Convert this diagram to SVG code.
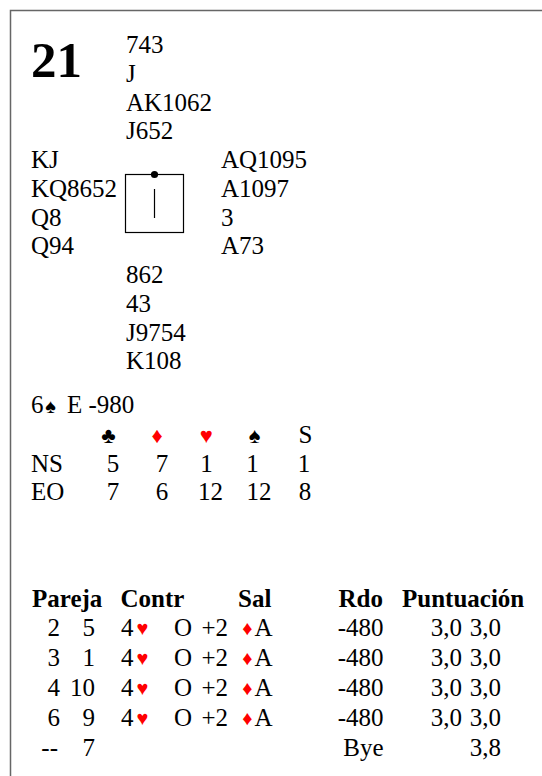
<svg xmlns="http://www.w3.org/2000/svg" width="542" height="776" viewBox="0 0 542 776">
<style>
text{font-family:"Liberation Serif","Times New Roman",serif;font-size:25px;fill:#000}
.b{font-weight:bold}
.m{text-anchor:middle}
.e{text-anchor:end}
.h{font-size:22px;text-anchor:middle}
.t{font-size:20px;text-anchor:middle}
.r{fill:#ff0000}
</style>
<rect width="542" height="776" fill="#fff"/>
<path d="M10.5,776 V10.5 H542" fill="none" stroke="#666" stroke-width="1.5"/>
<g id="board">
<text x="31" y="77" class="b" style="font-size:51px">21</text>
</g>
<g id="north">
<text x="126" y="53">743</text>
<text x="126" y="81.75">J</text>
<text x="126" y="110.5">AK1062</text>
<text x="126" y="139.25">J652</text>
</g>
<g id="west">
<text x="31" y="168">KJ</text>
<text x="31" y="196.75">KQ8652</text>
<text x="31" y="225.5">Q8</text>
<text x="31" y="254.25">Q94</text>
</g>
<g id="east">
<text x="221" y="168">AQ1095</text>
<text x="221" y="196.75">A1097</text>
<text x="221" y="225.5">3</text>
<text x="221" y="254.25">A73</text>
</g>
<g id="south">
<text x="126" y="283">862</text>
<text x="126" y="311.75">43</text>
<text x="126" y="340.5">J9754</text>
<text x="126" y="369.25">K108</text>
</g>
<g id="compass">
<rect x="125.5" y="174.5" width="58" height="58" fill="none" stroke="#000" stroke-width="1.2"/>
<circle cx="154.5" cy="174.5" r="3.6" fill="#000"/>
<line x1="154.5" y1="189" x2="154.5" y2="218" stroke="#000" stroke-width="1.2"/>
</g>
<g id="contract">
<text x="31" y="412.5">6</text>
<text x="50.5" y="412.5" class="t">♠</text>
<text x="67" y="412.5">E -980</text>
</g>
<g id="tricks">
<text x="108.5" y="443" class="h">♣</text>
<text x="157" y="443" class="h r">♦</text>
<text x="206.4" y="443" class="h r">♥</text>
<text x="254.7" y="443" class="h">♠</text>
<text x="305.5" y="443" class="m">S</text>
<text x="31" y="471.5">NS</text>
<text x="113" y="471.5" class="m">5</text>
<text x="162" y="471.5" class="m">7</text>
<text x="206.5" y="471.5" class="m">1</text>
<text x="252.5" y="471.5" class="m">1</text>
<text x="304" y="471.5" class="m">1</text>
<text x="31" y="500">EO</text>
<text x="113" y="500" class="m">7</text>
<text x="162" y="500" class="m">6</text>
<text x="210.5" y="500" class="m">12</text>
<text x="259" y="500" class="m">12</text>
<text x="305" y="500" class="m">8</text>
</g>
<g id="results">
<text x="32" y="607" class="b">Pareja</text>
<text x="120.5" y="607" class="b">Contr</text>
<text x="238" y="607" class="b">Sal</text>
<text x="383" y="607" class="b e">Rdo</text>
<text x="402" y="607" class="b">Puntuación</text>
<g id="row1">
<text x="60" y="636" class="e">2</text><text x="95" y="636" class="e">5</text>
<text x="121" y="636">4</text><text x="142.5" y="635" class="t r">♥</text>
<text x="174" y="636">O</text><text x="201.5" y="636">+2</text>
<text x="247.3" y="635" class="t r">♦</text><text x="254.5" y="636">A</text>
<text x="383.5" y="636" class="e">-480</text>
<text x="462" y="636" class="e">3,0</text><text x="501" y="636" class="e">3,0</text>
</g>
<g id="row2">
<text x="60" y="666" class="e">3</text><text x="95" y="666" class="e">1</text>
<text x="121" y="666">4</text><text x="142.5" y="665" class="t r">♥</text>
<text x="174" y="666">O</text><text x="201.5" y="666">+2</text>
<text x="247.3" y="665" class="t r">♦</text><text x="254.5" y="666">A</text>
<text x="383.5" y="666" class="e">-480</text>
<text x="462" y="666" class="e">3,0</text><text x="501" y="666" class="e">3,0</text>
</g>
<g id="row3">
<text x="60" y="696" class="e">4</text><text x="95" y="696" class="e">10</text>
<text x="121" y="696">4</text><text x="142.5" y="695" class="t r">♥</text>
<text x="174" y="696">O</text><text x="201.5" y="696">+2</text>
<text x="247.3" y="695" class="t r">♦</text><text x="254.5" y="696">A</text>
<text x="383.5" y="696" class="e">-480</text>
<text x="462" y="696" class="e">3,0</text><text x="501" y="696" class="e">3,0</text>
</g>
<g id="row4">
<text x="60" y="726" class="e">6</text><text x="95" y="726" class="e">9</text>
<text x="121" y="726">4</text><text x="142.5" y="725" class="t r">♥</text>
<text x="174" y="726">O</text><text x="201.5" y="726">+2</text>
<text x="247.3" y="725" class="t r">♦</text><text x="254.5" y="726">A</text>
<text x="383.5" y="726" class="e">-480</text>
<text x="462" y="726" class="e">3,0</text><text x="501" y="726" class="e">3,0</text>
</g>
<g id="row5">
<text x="58" y="756" class="e">--</text><text x="95" y="756" class="e">7</text>
<text x="383.5" y="756" class="e">Bye</text>
<text x="501" y="756" class="e">3,8</text>
</g>
</g>
</svg>
